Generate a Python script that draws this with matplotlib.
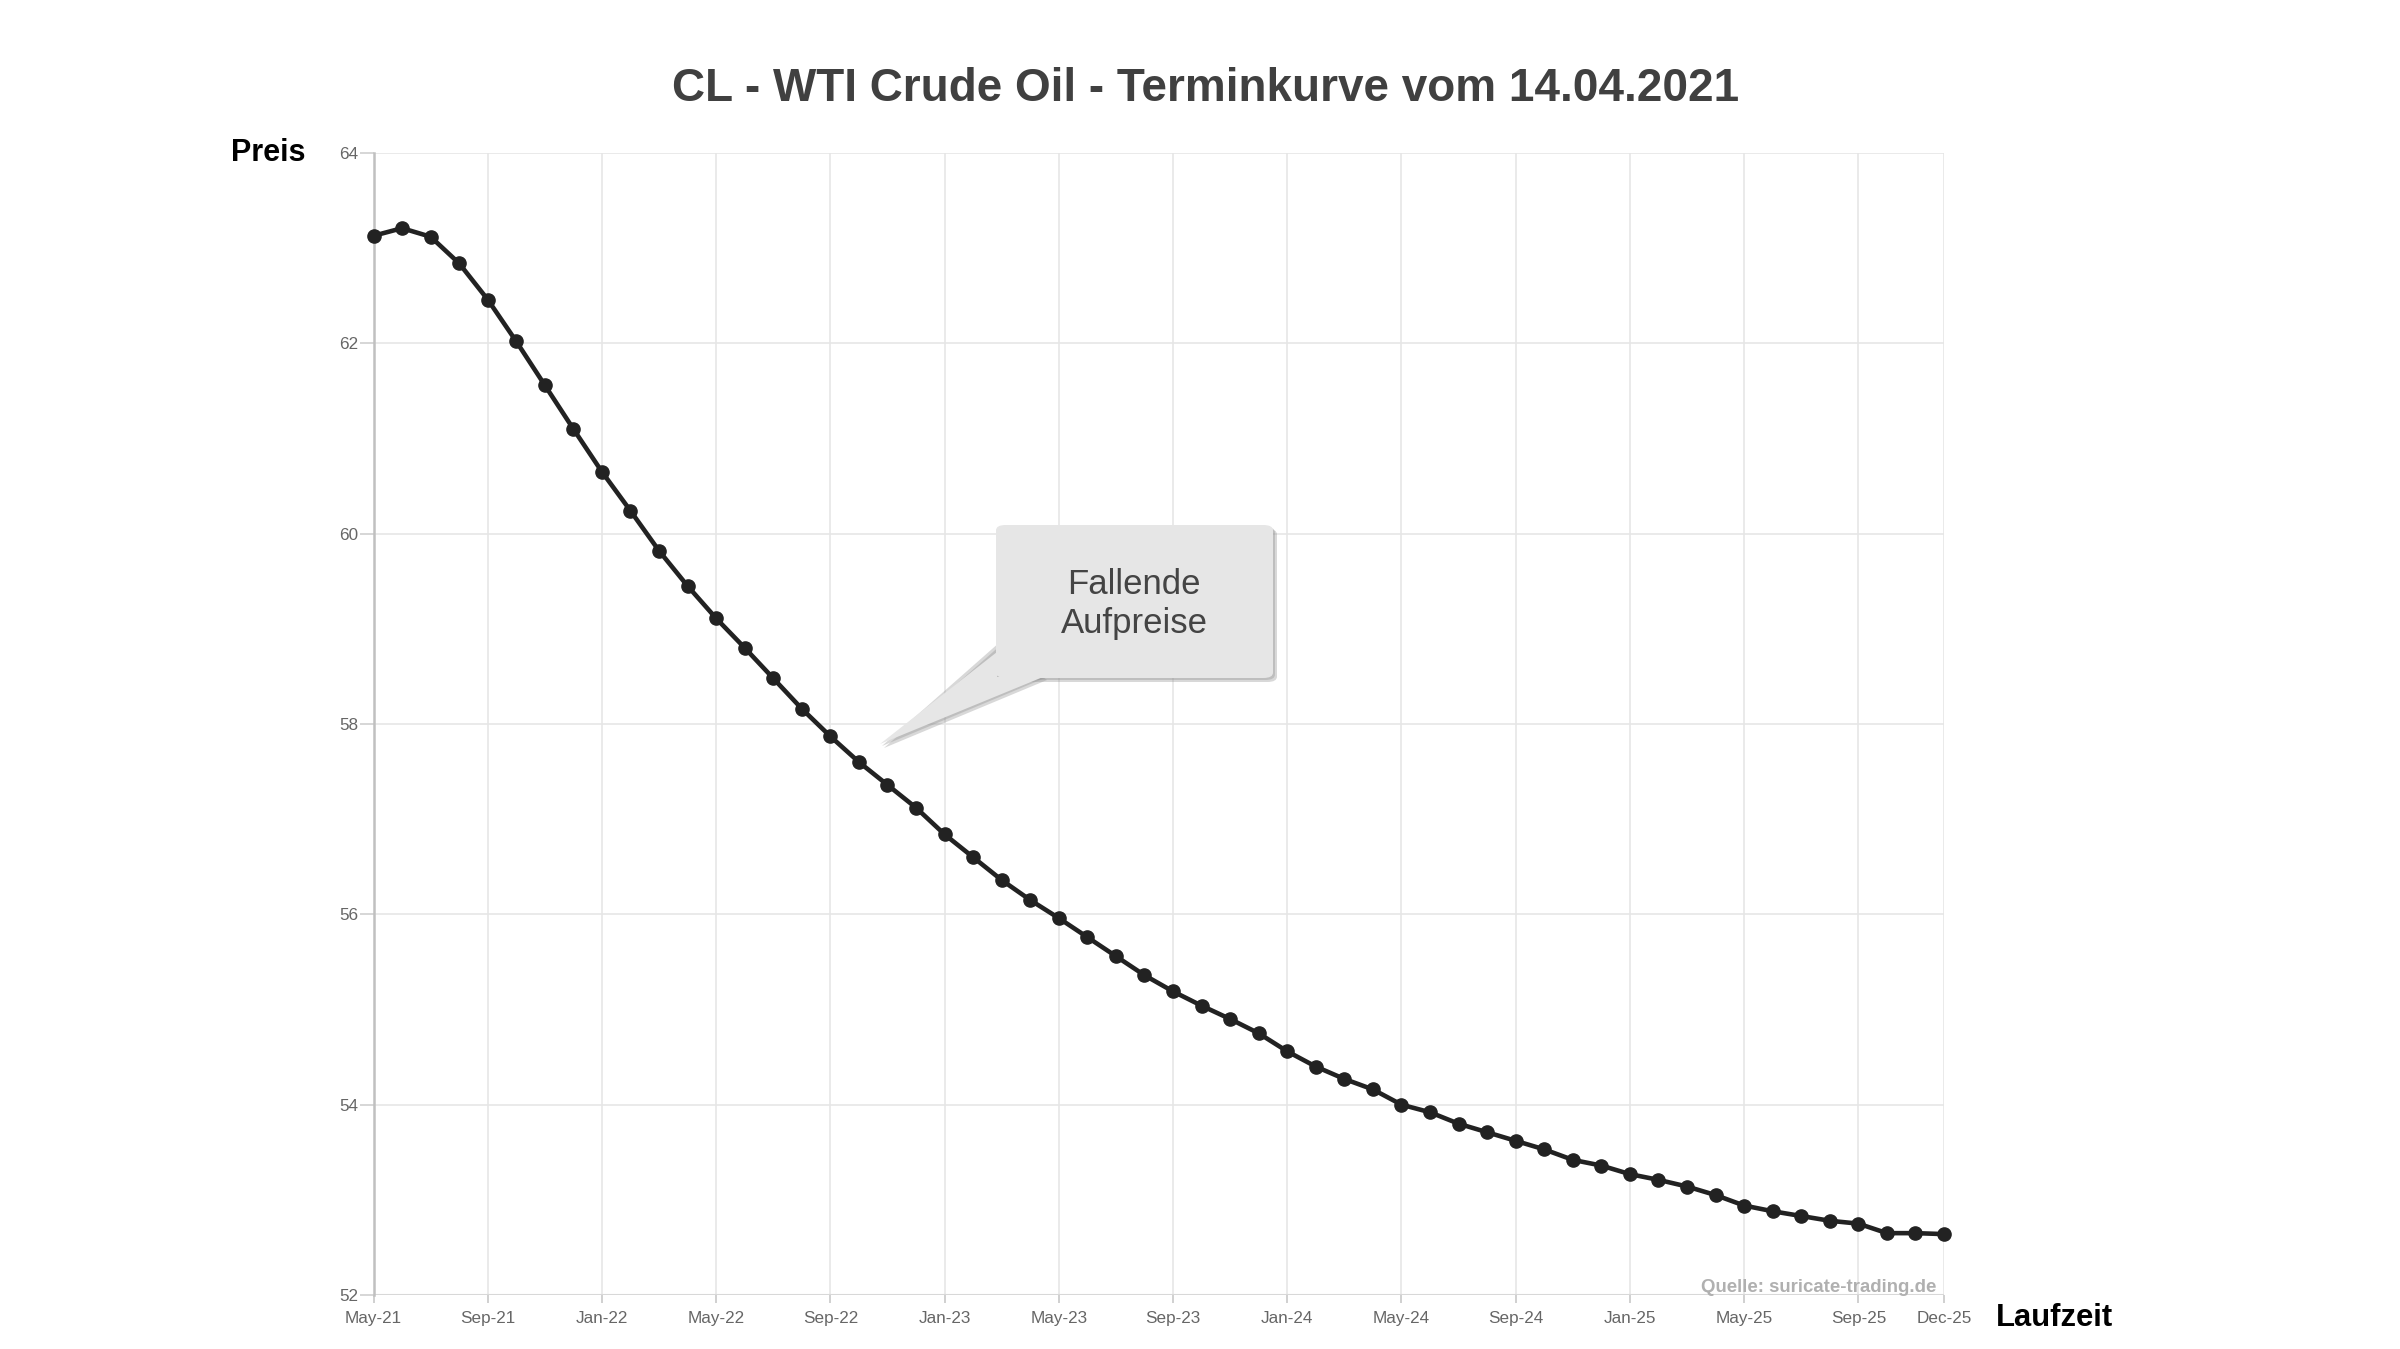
import matplotlib
matplotlib.use("Agg")
import matplotlib.pyplot as plt
from matplotlib.patches import FancyBboxPatch, Polygon

plt.rcParams['font.family'] = ['Liberation Sans', 'DejaVu Sans']

# Terminkurve: ein Kontrakt pro Monat, Mai 2021 bis Dez 2025
monate = list(range(56))
preise = [
    63.13, 63.21, 63.12, 62.84, 62.46, 62.02, 61.56, 61.10,
    60.65, 60.24, 59.82, 59.45, 59.11, 58.80, 58.48, 58.16,
    57.87, 57.60, 57.36, 57.12, 56.84, 56.60, 56.36, 56.15,
    55.96, 55.76, 55.56, 55.36, 55.19, 55.04, 54.90, 54.75,
    54.56, 54.40, 54.27, 54.16, 54.00, 53.92, 53.80, 53.71,
    53.62, 53.53, 53.42, 53.36, 53.27, 53.21, 53.14, 53.05,
    52.94, 52.88, 52.83, 52.78, 52.75, 52.65, 52.65, 52.64,
]

xtick_pos = [0, 4, 8, 12, 16, 20, 24, 28, 32, 36, 40, 44, 48, 52, 55]
xtick_labels = ["May-21", "Sep-21", "Jan-22", "May-22", "Sep-22", "Jan-23",
                "May-23", "Sep-23", "Jan-24", "May-24", "Sep-24", "Jan-25",
                "May-25", "Sep-25", "Dec-25"]
ytick_pos = [52, 54, 56, 58, 60, 62, 64]

W, H = 2400, 1349
fig = plt.figure(figsize=(W / 100, H / 100), dpi=100)
ax = fig.add_axes([373.5 / W, 1 - 1295 / H, (1944 - 373.5) / W, (1295 - 153) / H])

ax.plot(monate, preise, color="#222222", lw=3.3, marker="o", ms=9.5,
        markerfacecolor="#222222", markeredgecolor="#222222", zorder=3,
        clip_on=False)

ax.set_xlim(0, 55)
ax.set_ylim(52, 64)
ax.set_xticks(xtick_pos)
ax.set_xticklabels(xtick_labels)
ax.set_yticks(ytick_pos)
ax.grid(True, color="#e6e6e6", lw=1.2)
ax.set_axisbelow(True)
for s in ["top", "right", "bottom"]:
    ax.spines[s].set_visible(False)
ax.spines["left"].set_color("#c0c0c0")
ax.spines["left"].set_linewidth(1.8)
ax.axhline(52, color="#d8d8d8", lw=1.5, zorder=1)
ax.tick_params(axis="x", colors="#c8c8c8", labelcolor="#666666", labelsize=12.3,
               length=6, width=1.2, pad=5.5)
ax.tick_params(axis="y", colors="#d0d0d0", labelcolor="#666666", labelsize=12.3,
               length=10, width=1.2, pad=1)

fig.text(1206 / W, 1 - 89 / H, "CL - WTI Crude Oil - Terminkurve vom 14.04.2021",
         ha="center", va="center", fontsize=33, fontweight="bold", color="#404040")
fig.text(268.6 / W, 1 - 153 / H, "Preis", ha="center", va="center",
         fontsize=22, fontweight="bold", color="black")
fig.text(2054 / W, 1 - 1318 / H, "Laufzeit", ha="center", va="center",
         fontsize=22.3, fontweight="bold", color="black")
fig.text(1936 / W, 1 - 1287 / H, "Quelle: suricate-trading.de", ha="right",
         va="center", fontsize=13.4, fontweight="bold", color="#b0b0b0")

# Sprechblase
def px(x, y):
    return (x / W, 1 - y / H)

bx0, by0, bx1, by1 = 996, 525, 1273, 678
tip = (880, 744)
for dx, dy, col, a in [(4, 4, "#909090", 0.35), (2, 2, "#909090", 0.35)]:
    sh_box = FancyBboxPatch(px(bx0 + dx, by1 + dy), (bx1 - bx0) / W, (by1 - by0) / H,
                            boxstyle="round,pad=0,rounding_size=0.004",
                            transform=fig.transFigure, fc=col, ec="none", alpha=a)
    fig.patches.append(sh_box)
    sh_tri = Polygon([px(tip[0] + dx, tip[1] + dy), px(998 + dx, 640 + dy),
                      px(1043 + dx, 676 + dy)], closed=True,
                     transform=fig.transFigure, fc=col, ec="none", alpha=a)
    fig.patches.append(sh_tri)
box = FancyBboxPatch(px(bx0, by1), (bx1 - bx0) / W, (by1 - by0) / H,
                     boxstyle="round,pad=0,rounding_size=0.004",
                     transform=fig.transFigure, fc="#e6e6e6", ec="none")
fig.patches.append(box)
tri = Polygon([px(*tip), px(997, 652), px(997, 677), px(1043, 677)], closed=True,
              transform=fig.transFigure, fc="#e6e6e6", ec="none")
fig.patches.append(tri)
fig.text(1134 / W, 1 - 604 / H, "Fallende\nAufpreise", ha="center", va="center",
         fontsize=25, color="#444444", linespacing=1.22)

fig.savefig("out.png", dpi=100)
